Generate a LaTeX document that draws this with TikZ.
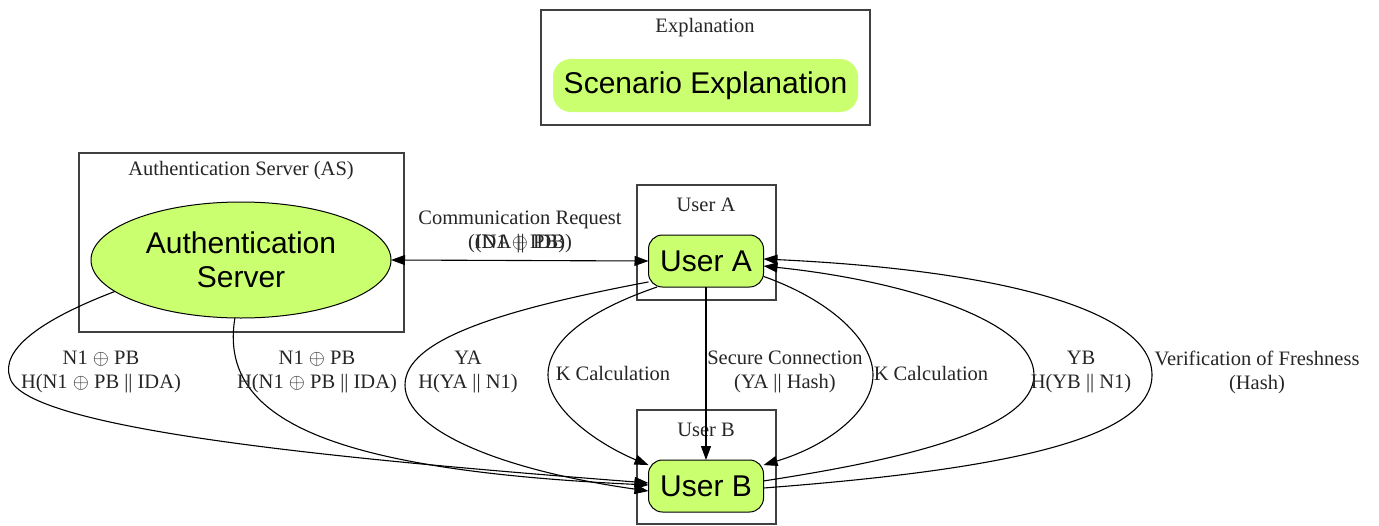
\documentclass[tikz,border=0pt]{standalone}
\usepackage{fontspec}
\setmainfont{Liberation Serif}
\newfontfamily\arialf{Liberation Sans}
\usetikzlibrary{arrows.meta,shapes.geometric}
\definecolor{nodegreen}{RGB}{202,255,112}
\begin{document}
\begin{tikzpicture}[x=1pt,y=-1pt,
 every node/.style={inner sep=0pt, outer sep=0pt},
 cluster/.style={draw=black!75, line width=1.2pt},
 ctitle/.style={font=\fontsize{20.5}{24}\selectfont, text=black!85},
 lbl/.style={font=\fontsize{20.5}{24}\selectfont, align=center, text=black!85},
 unode/.style={draw, line width=1pt, fill=nodegreen, rounded corners=14pt, minimum width=115pt, minimum height=52pt, font=\arialf\fontsize{30}{34}\selectfont},
 conn/.style={line width=1.1pt, -{Triangle[length=14pt,width=10pt]}},
]
\useasboundingbox[fill=white] (0,0) rectangle (1379,525);
% clusters
\draw[cluster] (541,10) rectangle (870,125);
\node[ctitle] (exT) at (705,28) {Explanation};
\draw[cluster] (79,153) rectangle (404,332);
\node[ctitle] (asT) at (241,171) {Authentication Server (AS)};
\draw[cluster] (637,185) rectangle (776,300);
\node[ctitle] (uaT) at (706,205) {User A};
\draw[cluster] (637,410) rectangle (776,524);
\node[ctitle] (ubT) at (706,430) {User B};
% nodes
\node[fill=nodegreen, rounded corners=18pt, minimum width=305pt, minimum height=53pt, font=\arialf\fontsize{30}{34}\selectfont] (scen) at (705.5,85.5) {Scenario Explanation};
\node[ellipse, draw, line width=1pt, fill=nodegreen, minimum width=300pt, minimum height=116pt, align=center, font=\arialf\fontsize{30}{34}\selectfont] (as) at (241,260) {Authentication\\Server};
\node[unode] (ua) at (706,261) {User A};
\node[unode] (ub) at (706,486) {User B};
% edges
\draw[line width=1.1pt, {Triangle[length=14pt,width=10pt]}-{Triangle[length=14pt,width=10pt]}] (as.east) -- (ua.west);
\node[lbl] (crl) at (520,231.5) {Communication Request\\(IDA || IDB)};
\node[lbl] (crl2) at (520,244) {(N1 $\oplus$ PB)};

\draw[conn] (as.194) .. controls (40,320) and (0,350) .. (10,378) .. controls (25,430) and (350,460) .. (ub.177);
\node[lbl] (l1) at (101,372) {N1 $\oplus$ PB\\H(N1 $\oplus$ PB || IDA)};

\draw[conn] (as.264) .. controls (218,420) and (330,470) .. (ub.179);
\node[lbl] (l2) at (317,372) {N1 $\oplus$ PB\\H(N1 $\oplus$ PB || IDA)};

\draw[conn] (ua.200) .. controls (500,310) and (405,340) .. (405,385) .. controls (405,430) and (500,470) .. (ub.185);
\node[lbl] (l3) at (468,372) {YA\\H(YA || N1)};

\draw[conn] (ua.208) .. controls (590,310) and (548,340) .. (548,375) .. controls (548,410) and (600,445) .. (ub.160);
\node[lbl] (l4) at (613,373) {K Calculation};

\draw[conn] (ua.south) -- (ub.north);
\node[lbl] (l5) at (785,372) {Secure Connection\\(YA || Hash)};

\draw[conn] (ua.345) .. controls (830,300) and (873,340) .. (873,375) .. controls (873,410) and (830,445) .. (ub.20);
\node[lbl] (l6) at (931,373) {K Calculation};

\draw[conn] (ub.5) .. controls (900,460) and (1034,430) .. (1034,375) .. controls (1034,320) and (900,280) .. (ua.-5);
\node[lbl] (l7) at (1081,372) {YB\\H(YB || N1)};

\draw[conn] (ub.-2) .. controls (1000,470) and (1152,440) .. (1152,375) .. controls (1152,310) and (1000,270) .. (ua.2);
\node[lbl] (l8) at (1257,372) {Verification of Freshness\\(Hash)};
\end{tikzpicture}
\end{document}
